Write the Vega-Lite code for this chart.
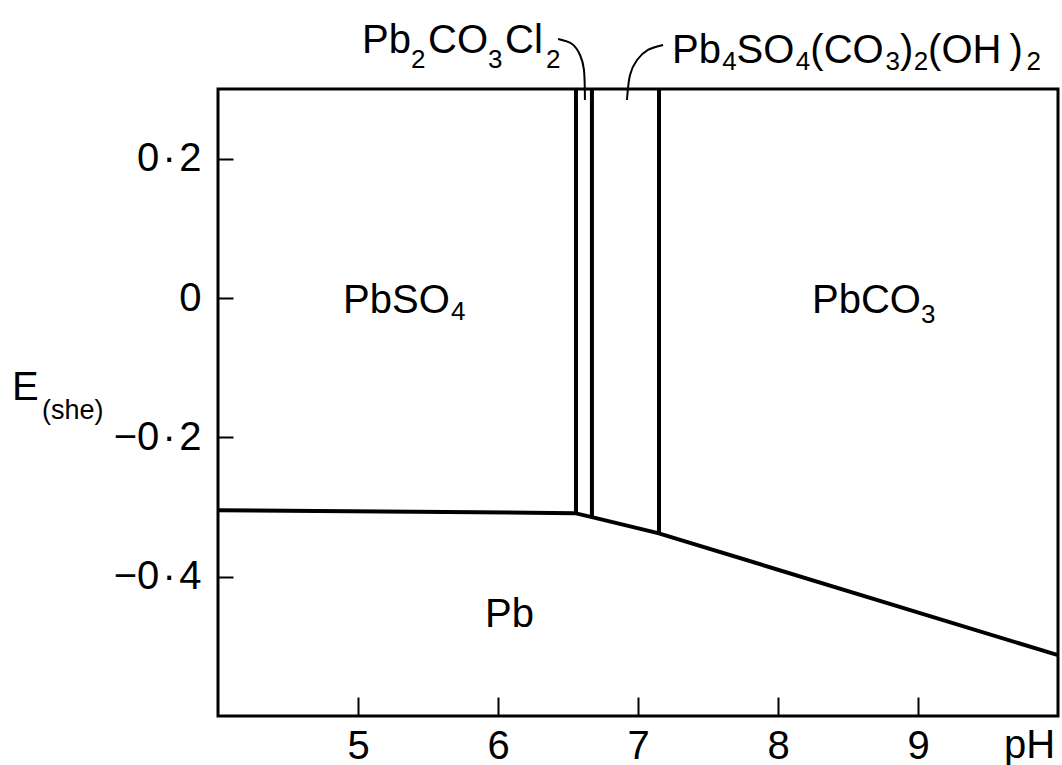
{
  "$schema": "https://vega.github.io/schema/vega-lite/v6.json",
  "width": 840,
  "height": 627,
  "autosize": {"type": "none"},
  "padding": {"left": 218, "top": 89, "right": 4, "bottom": 49},
  "background": "white",
  "config": {
    "view": {"stroke": "black", "strokeWidth": 3},
    "font": "Liberation Sans"
  },
  "datasets": {
    "bounds": [
      {"seg": "Pb lower", "ord": 1, "pH": 4.0, "E": -0.3045},
      {"seg": "Pb lower", "ord": 2, "pH": 6.55, "E": -0.3088},
      {"seg": "Pb lower", "ord": 3, "pH": 6.671, "E": -0.3145},
      {"seg": "Pb lower", "ord": 4, "pH": 7.143, "E": -0.3375},
      {"seg": "Pb lower", "ord": 5, "pH": 10.0, "E": -0.5127},
      {"seg": "v1", "ord": 1, "pH": 6.557, "E": 0.3},
      {"seg": "v1", "ord": 2, "pH": 6.557, "E": -0.3092},
      {"seg": "v2", "ord": 1, "pH": 6.671, "E": 0.3},
      {"seg": "v2", "ord": 2, "pH": 6.671, "E": -0.3145},
      {"seg": "v3", "ord": 1, "pH": 7.15, "E": 0.3},
      {"seg": "v3", "ord": 2, "pH": 7.15, "E": -0.3379}
    ],
    "leaders": [
      {"seg": "L1", "ord": 1, "pH": 6.429, "E": 0.3718},
      {"seg": "L1", "ord": 2, "pH": 6.529, "E": 0.3646},
      {"seg": "L1", "ord": 3, "pH": 6.586, "E": 0.3488},
      {"seg": "L1", "ord": 4, "pH": 6.614, "E": 0.3273},
      {"seg": "L1", "ord": 5, "pH": 6.621, "E": 0.2842},
      {"seg": "L2", "ord": 1, "pH": 7.179, "E": 0.3632},
      {"seg": "L2", "ord": 2, "pH": 7.071, "E": 0.356},
      {"seg": "L2", "ord": 3, "pH": 6.993, "E": 0.3416},
      {"seg": "L2", "ord": 4, "pH": 6.943, "E": 0.3201},
      {"seg": "L2", "ord": 5, "pH": 6.921, "E": 0.2842}
    ],
    "labelParts": [
      {"label": "Pb2CO3Cl2", "part": "Pb", "role": "main", "pH": 5.029, "E": 0.3517},
      {"label": "Pb2CO3Cl2", "part": "2", "role": "sub", "pH": 5.379, "E": 0.3302},
      {"label": "Pb2CO3Cl2", "part": "CO", "role": "main", "pH": 5.5, "E": 0.3517},
      {"label": "Pb2CO3Cl2", "part": "3", "role": "sub", "pH": 5.929, "E": 0.3302},
      {"label": "Pb2CO3Cl2", "part": "Cl", "role": "main", "pH": 6.05, "E": 0.3517},
      {"label": "Pb2CO3Cl2", "part": "2", "role": "sub", "pH": 6.343, "E": 0.3302},
      {"label": "Pb4SO4(CO3)2(OH)2", "part": "Pb", "role": "main", "pH": 7.243, "E": 0.3373},
      {"label": "Pb4SO4(CO3)2(OH)2", "part": "4", "role": "sub", "pH": 7.601, "E": 0.3273},
      {"label": "Pb4SO4(CO3)2(OH)2", "part": "SO", "role": "main", "pH": 7.704, "E": 0.3373},
      {"label": "Pb4SO4(CO3)2(OH)2", "part": "4", "role": "sub", "pH": 8.127, "E": 0.3273},
      {"label": "Pb4SO4(CO3)2(OH)2", "part": "(CO", "role": "main", "pH": 8.231, "E": 0.3373},
      {"label": "Pb4SO4(CO3)2(OH)2", "part": "3", "role": "sub", "pH": 8.768, "E": 0.3273},
      {"label": "Pb4SO4(CO3)2(OH)2", "part": ")", "role": "main", "pH": 8.871, "E": 0.3373},
      {"label": "Pb4SO4(CO3)2(OH)2", "part": "2", "role": "sub", "pH": 8.969, "E": 0.3273},
      {"label": "Pb4SO4(CO3)2(OH)2", "part": "(OH\u2009)", "role": "main", "pH": 9.072, "E": 0.3373},
      {"label": "Pb4SO4(CO3)2(OH)2", "part": "2", "role": "sub", "pH": 9.775, "E": 0.3273},
      {"label": "PbSO4", "part": "PbSO", "role": "main", "pH": 4.893, "E": -0.0216},
      {"label": "PbSO4", "part": "4", "role": "sub", "pH": 5.664, "E": -0.0317},
      {"label": "PbCO3", "part": "PbCO", "role": "main", "pH": 8.243, "E": -0.0216},
      {"label": "PbCO3", "part": "3", "role": "sub", "pH": 9.021, "E": -0.036},
      {"label": "Pb", "part": "Pb", "role": "main", "pH": 5.907, "E": -0.4724},
      {"label": "E(she)", "part": "E", "role": "main", "pH": 2.529, "E": -0.1465},
      {"label": "E(she)", "part": "(she)", "role": "axsub", "pH": 2.743, "E": -0.1738},
      {"label": "pH", "part": "pH", "role": "main", "pH": 9.615, "E": -0.6605}
    ]
  },
  "layer": [
    {
      "data": {"name": "bounds"},
      "mark": {"type": "line", "color": "black", "strokeWidth": 4, "strokeCap": "butt"},
      "encoding": {
        "x": {"field": "pH", "type": "quantitative", "scale": {"domain": [4, 10], "nice": false, "zero": false},
          "axis": {"values": [5, 6, 7, 8, 9], "format": "d", "grid": false, "domain": false, "title": null,
            "offset": -19, "tickSize": 19, "tickWidth": 2, "tickColor": "black",
            "labelFont": "Liberation Sans", "labelFontSize": 40, "labelColor": "black",
            "labelBaseline": "alphabetic", "labelPadding": 42}},
        "y": {"field": "E", "type": "quantitative", "scale": {"domain": [-0.6, 0.3], "nice": false, "zero": false},
          "axis": {"values": [0.2, 0, -0.2, -0.4], "grid": false, "domain": false, "title": null,
            "offset": -15, "tickSize": 15, "tickWidth": 2, "tickColor": "black",
            "labelFont": "Liberation Sans", "labelFontSize": 40, "labelColor": "black", "labelPadding": 17,
            "labelExpr": "datum.value == 0 ? '0' : (datum.value < 0 ? '−' : '') + replace(format(abs(datum.value), '.1f'), '.', '\u200a·\u200a')"}},
        "detail": {"field": "seg"},
        "order": {"field": "ord"}
      }
    },
    {
      "data": {"name": "leaders"},
      "mark": {"type": "line", "color": "black", "strokeWidth": 2, "interpolate": "cardinal"},
      "encoding": {
        "x": {"field": "pH", "type": "quantitative"},
        "y": {"field": "E", "type": "quantitative"},
        "detail": {"field": "seg"},
        "order": {"field": "ord"}
      }
    },
    {
      "data": {"name": "labelParts"},
      "transform": [{"filter": "datum.role == 'main'"}],
      "mark": {"type": "text", "align": "left", "baseline": "alphabetic", "fontSize": 40, "color": "black", "font": "Liberation Sans"},
      "encoding": {
        "x": {"field": "pH", "type": "quantitative"},
        "y": {"field": "E", "type": "quantitative"},
        "text": {"field": "part"}
      }
    },
    {
      "data": {"name": "labelParts"},
      "transform": [{"filter": "datum.role == 'sub'"}],
      "mark": {"type": "text", "align": "left", "baseline": "alphabetic", "fontSize": 26, "color": "black", "font": "Liberation Sans"},
      "encoding": {
        "x": {"field": "pH", "type": "quantitative"},
        "y": {"field": "E", "type": "quantitative"},
        "text": {"field": "part"}
      }
    },
    {
      "data": {"name": "labelParts"},
      "transform": [{"filter": "datum.role == 'axsub'"}],
      "mark": {"type": "text", "align": "left", "baseline": "alphabetic", "fontSize": 27, "color": "black", "font": "Liberation Sans"},
      "encoding": {
        "x": {"field": "pH", "type": "quantitative"},
        "y": {"field": "E", "type": "quantitative"},
        "text": {"field": "part"}
      }
    }
  ]
}
